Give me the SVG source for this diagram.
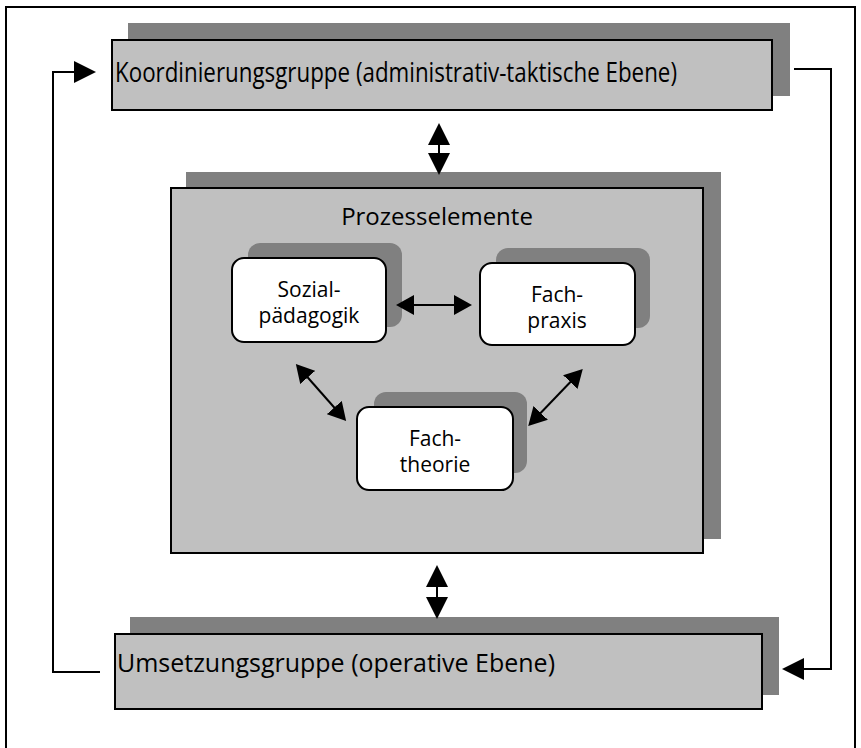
<svg xmlns="http://www.w3.org/2000/svg" width="861" height="748" viewBox="0 0 861 748">
<style>
.shadow{fill:#808080;stroke:none}
.box{fill:#C0C0C0;stroke:#000;stroke-width:2}
.rbox{fill:#fff;stroke:#000;stroke-width:2}
.conn{fill:none;stroke:#000;stroke-width:2}
.t{font-family:"Open Sans","Noto Sans","Liberation Sans",sans-serif;fill:#000}
.in{font-size:21px;text-anchor:middle}
</style>
<defs>
<marker id="big" markerUnits="userSpaceOnUse" markerWidth="22" markerHeight="22" refX="18" refY="11" orient="auto-start-reverse"><path d="M0,0 L22,11 L0,22 z" fill="#000"/></marker>
<marker id="small" markerUnits="userSpaceOnUse" markerWidth="18" markerHeight="20" refX="14" refY="10" orient="auto-start-reverse"><path d="M0,0 L18,10 L0,20 z" fill="#000"/></marker>
</defs>
<rect x="6" y="7" width="849" height="760" fill="#fff" stroke="#000" stroke-width="2"/>
<g id="koordinierung">
<rect class="shadow" x="128" y="23" width="662" height="73"/>
<rect class="box" x="112" y="40" width="660" height="70"/>
<text class="t" x="115" y="82" font-size="27" textLength="562" lengthAdjust="spacingAndGlyphs">Koordinierungsgruppe (administrativ-taktische Ebene)</text>
</g>
<g id="prozess">
<rect class="shadow" x="186" y="172" width="535" height="367"/>
<rect class="box" x="171" y="188" width="532" height="365"/>
<text class="t" x="437" y="225" font-size="24" text-anchor="middle">Prozesselemente</text>
</g>
<g id="sozial">
<rect class="shadow" x="248" y="243" width="154" height="84" rx="12"/>
<rect class="rbox" x="232" y="258" width="154" height="84" rx="12"/>
<text class="t in" x="309" y="297">Sozial-</text>
<text class="t in" x="309" y="323">pädagogik</text>
</g>
<g id="praxis">
<rect class="shadow" x="496" y="248" width="154" height="80" rx="12"/>
<rect class="rbox" x="480" y="263" width="155" height="82" rx="12"/>
<text class="t in" x="557" y="302">Fach-</text>
<text class="t in" x="557" y="328">praxis</text>
</g>
<g id="theorie">
<rect class="shadow" x="374" y="392" width="153" height="81" rx="12"/>
<rect class="rbox" x="357" y="407" width="156" height="83" rx="12"/>
<text class="t in" x="435" y="446">Fach-</text>
<text class="t in" x="435" y="472">theorie</text>
</g>
<g id="umsetzung">
<rect class="shadow" x="130" y="617" width="649" height="78"/>
<rect class="box" x="115" y="634" width="647" height="75"/>
<text class="t" x="117" y="672" font-size="26" textLength="438" lengthAdjust="spacingAndGlyphs">Umsetzungsgruppe (operative Ebene)</text>
</g>
<g id="connectors">
<line class="conn" x1="439" y1="127" x2="439" y2="171" marker-start="url(#big)" marker-end="url(#big)"/>
<line class="conn" x1="437" y1="569" x2="437" y2="615" marker-start="url(#big)" marker-end="url(#big)"/>
<polyline class="conn" points="100,672 53,672 53,72 92,72" marker-end="url(#big)"/>
<polyline class="conn" points="794,69 831,69 831,669 786,669" marker-end="url(#big)"/>
<line class="conn" x1="400" y1="305" x2="468" y2="305" marker-start="url(#small)" marker-end="url(#small)"/>
<line class="conn" x1="298.5" y1="367" x2="343.5" y2="418" marker-start="url(#small)" marker-end="url(#small)"/>
<line class="conn" x1="580" y1="372" x2="531" y2="423" marker-start="url(#small)" marker-end="url(#small)"/>
</g>
</svg>
